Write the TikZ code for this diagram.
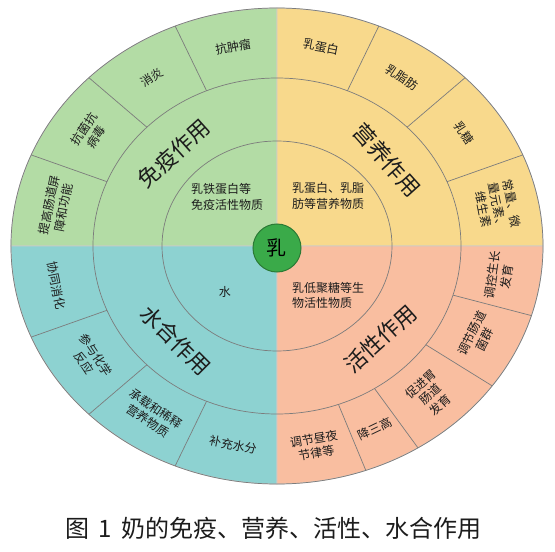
\documentclass[tikz,border=0pt]{standalone}
\usepackage{fontspec}
\setmainfont{Noto Sans CJK SC}
\usepackage{tikz}
\usetikzlibrary{positioning}
\definecolor{immgreen}{HTML}{B3DCA5}
\definecolor{nutyellow}{HTML}{F8D98C}
\definecolor{hydteal}{HTML}{8DD2D1}
\definecolor{actsalmon}{HTML}{F9BEA0}
\definecolor{milkgreen}{HTML}{3AAA49}
\definecolor{milkdark}{HTML}{2B7A35}
\definecolor{linegray}{HTML}{7C7C7C}
\definecolor{ink}{HTML}{1C1C1C}
\tikzset{quarter/.style={fill=#1,draw=white!60!linegray,line width=0.8pt},
ring/.style={draw=linegray,line width=0.7pt},
seg text/.style={font=\fontsize{12}{14.5}\selectfont,align=center,text=ink,inner sep=0pt},
mid text/.style={font=\fontsize{12}{15.5}\selectfont,align=left,text=ink,inner sep=0pt},
title text/.style={font=\fontsize{22}{24}\selectfont,text=ink,inner sep=0pt},
caption text/.style={font=\fontsize{24}{24}\selectfont,text=ink,inner sep=0pt}}

\begin{document}
\begin{tikzpicture}[x=1pt,y=1pt]
\useasboundingbox (-277,-306) rectangle (278,246);
\draw[quarter=immgreen] (0,0) -- (90:266pt and 238pt) arc[start angle=90,end angle=180,x radius=266pt,y radius=238pt] -- cycle;
\draw[quarter=nutyellow] (0,0) -- (0:266pt and 238pt) arc[start angle=0,end angle=90,x radius=266pt,y radius=238pt] -- cycle;
\draw[quarter=hydteal] (0,0) -- (180:266pt and 238pt) arc[start angle=180,end angle=270,x radius=266pt,y radius=238pt] -- cycle;
\draw[quarter=actsalmon] (0,0) -- (270:266pt and 238pt) arc[start angle=270,end angle=360,x radius=266pt,y radius=238pt] -- cycle;
\draw[ring] (0,0) ellipse [x radius=266pt,y radius=238pt];
\draw[ring] (0,0) ellipse [x radius=184pt,y radius=168pt];
\draw[ring] (0,0) ellipse [x radius=115pt,y radius=105pt];
\draw[ring] (112.5:184pt and 168pt) -- (112.5:266pt and 238pt);
\draw[ring] (135:184pt and 168pt) -- (135:266pt and 238pt);
\draw[ring] (157.5:184pt and 168pt) -- (157.5:266pt and 238pt);
\draw[ring] (67.5:184pt and 168pt) -- (67.5:266pt and 238pt);
\draw[ring] (45:184pt and 168pt) -- (45:266pt and 238pt);
\draw[ring] (22.5:184pt and 168pt) -- (22.5:266pt and 238pt);
\draw[ring] (202.5:184pt and 168pt) -- (202.5:266pt and 238pt);
\draw[ring] (225:184pt and 168pt) -- (225:266pt and 238pt);
\draw[ring] (247.5:184pt and 168pt) -- (247.5:266pt and 238pt);
\draw[ring] (-17:184pt and 168pt) -- (-17:266pt and 238pt);
\draw[ring] (-36:184pt and 168pt) -- (-36:266pt and 238pt);
\draw[ring] (-58:184pt and 168pt) -- (-58:266pt and 238pt);
\draw[ring] (-70.5:184pt and 168pt) -- (-70.5:266pt and 238pt);
\node[circle,fill=milkgreen,draw=milkdark,line width=1pt,minimum size=48pt,inner sep=0pt,font=\fontsize{20}{20}\selectfont] (milk) at (0,-2) {乳};
% immune
\node[title text,rotate=42] (immune) at (135:146pt and 131pt) {免疫作用};
\node[mid text,anchor=west] (immune in) at (-86,49) {乳铁蛋白等\\免疫活性物质};
\node[seg text,rotate=11.25] (antitumor) at (101.25:225pt and 203pt) {抗肿瘤};
\node[seg text,rotate=33.75] (antiinflam) at (123.75:225pt and 203pt) {消炎};
\node[seg text,rotate=56.25] (antivirus) at (146.25:225pt and 203pt) {抗菌抗\\病毒};
\node[seg text,rotate=78.75] (barrier) at (168.75:225pt and 203pt) {提高肠道屏\\障和功能};
% nutrition
\node[title text,rotate=-48] (nutrition) at (41:146pt and 131pt) {营养作用};
\node[mid text,anchor=west] (nutrition in) at (15,50) {乳蛋白、乳脂\\肪等营养物质};
\node[seg text,rotate=-11.25] (protein) at (78.75:225pt and 203pt) {乳蛋白};
\node[seg text,rotate=-33.75] (fat) at (56.25:225pt and 203pt) {乳脂肪};
\node[seg text,rotate=-56.25] (lactose) at (33.75:225pt and 203pt) {乳糖};
\node[seg text,rotate=-78.75] (minerals) at (11.25:225pt and 203pt) {常量、微\\量元素、\\维生素};
% hydration
\node[title text,rotate=-45] (hydration) at (226:146pt and 131pt) {水合作用};
\node[mid text] (hydration in) at (-52,-46) {水};
\node[seg text,rotate=-78.75] (digestion) at (191.25:225pt and 203pt) {协同消化};
\node[seg text,rotate=-56.25] (reaction) at (213.75:225pt and 203pt) {参与化学\\反应};
\node[seg text,rotate=-33.75] (carrier) at (236.25:225pt and 203pt) {承载和稀释\\营养物质};
\node[seg text,rotate=-11.25] (water) at (258.75:225pt and 203pt) {补充水分};
% activity
\node[title text,rotate=42] (activity) at (-45:146pt and 131pt) {活性作用};
\node[mid text,anchor=west] (activity in) at (15,-49.5) {乳低聚糖等生\\物活性物质};
\node[seg text,rotate=81.5] (growth) at (-8.5:225pt and 203pt) {调控生长\\发育};
\node[seg text,rotate=63.5] (flora) at (-26.5:225pt and 203pt) {调节肠道\\菌群};
\node[seg text,rotate=43] (gut) at (-47:225pt and 203pt) {促进胃\\肠道\\发育};
\node[seg text,rotate=25.75] (lipids) at (-64.25:225pt and 203pt) {降三高};
\node[seg text,rotate=9.75] (rhythm) at (-80.25:225pt and 203pt) {调节昼夜\\节律等};
% caption
\coordinate (bottom) at (270:266pt and 238pt);
\node[caption text,below=33pt of bottom,xshift=-3.5pt] (caption) {图\hspace{9pt}1\hspace{10pt}奶的免疫、营养、活性、水合作用};
\end{tikzpicture}
\end{document}
